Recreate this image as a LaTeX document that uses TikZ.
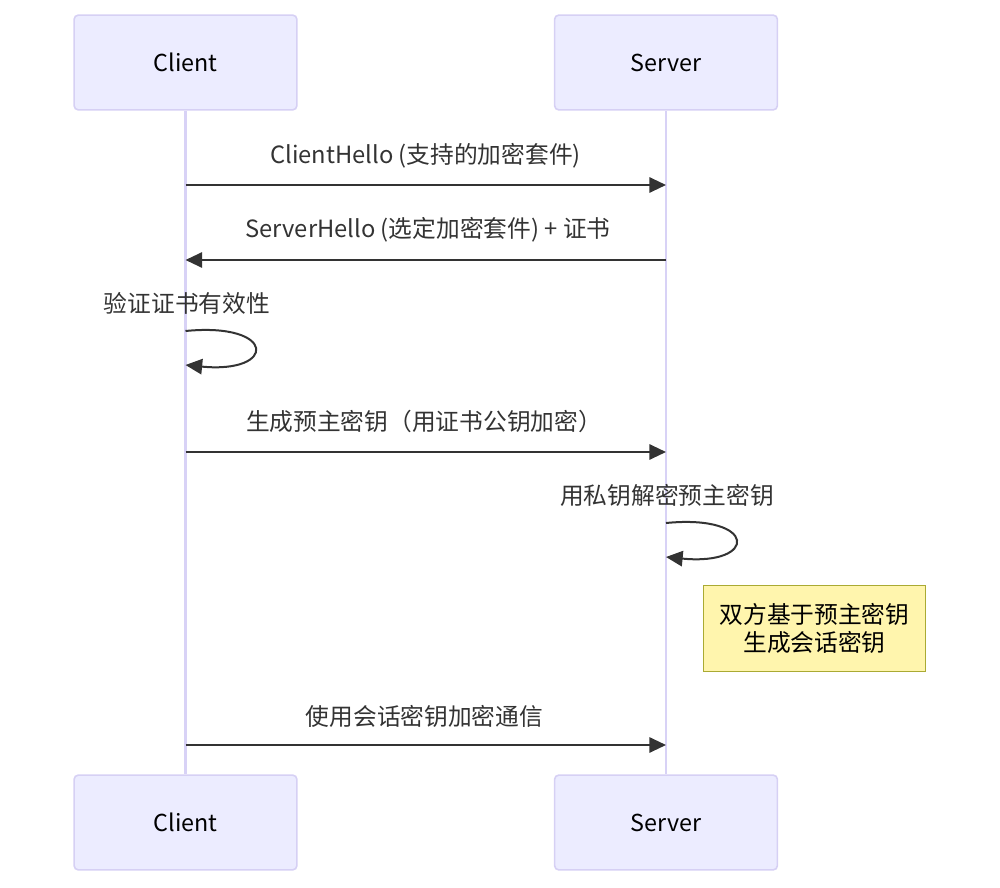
\documentclass[tikz,border=0pt]{standalone}
\usepackage{fontspec}
\setmainfont{Noto Sans CJK SC}
\usetikzlibrary{arrows.meta}
\definecolor{actorfill}{HTML}{ECECFF}
\definecolor{actorline}{HTML}{D6D0F4}
\definecolor{lifecol}{HTML}{D8D2F6}
\definecolor{msgcol}{HTML}{333333}
\definecolor{notefill}{HTML}{FFF5AD}
\definecolor{noteline}{HTML}{AAAA33}
\tikzset{
  actor/.style={draw=actorline,fill=actorfill,line width=1.2pt,rounded corners=3pt,
    minimum width=167pt,minimum height=71pt,inner sep=0pt,font=\fontsize{17.5}{20}\selectfont},
  lifeline/.style={draw=lifecol,line width=2pt},
  msg/.style={draw=msgcol,line width=1.5pt,-{Triangle[length=12.5pt,width=11.5pt]}},
  msglabel/.style={text=msgcol,inner sep=0pt,font=\fontsize{17.8}{20}\selectfont},
  notebox/.style={draw=noteline,fill=notefill,line width=0.9pt,minimum width=167pt,
    minimum height=64pt,inner sep=0pt,align=center,font=\fontsize{17.8}{20.5}\selectfont}
}
\begin{document}
\begin{tikzpicture}[x=0.75pt,y=-0.75pt]
        \useasboundingbox (0,0) rectangle (1000,888);
        %% actors
        \node[actor] (ct) at (185.5,62.5) {Client};
        \node[actor] (st) at (666,62.5) {Server};
        \node[actor] (cb) at (185.5,822.5) {Client};
        \node[actor] (sb) at (666,822.5) {Server};
        %% lifelines
        \draw[lifeline] (ct.south) -- (cb.north);
        \draw[lifeline] (st.south) -- (sb.north);
        %% points on the lifelines
        \coordinate (c1) at (185.5,185);
        \coordinate (s1) at (666,185);
        \coordinate (c2) at (185.5,260);
        \coordinate (s2) at (666,260);
        \coordinate (c3a) at (185.5,331);
        \coordinate (c3b) at (185.5,365);
        \coordinate (c4) at (185.5,452);
        \coordinate (s4) at (666,452);
        \coordinate (s5a) at (666,523);
        \coordinate (s5b) at (666,557);
        \coordinate (c6) at (185.5,745);
        \coordinate (s6) at (666,745);
        %% messages
        \node[msglabel] (m1) at (425.5,156) {ClientHello (支持的加密套件)};
        \draw[msg] (c1) -- (s1);
        \node[msglabel] (m2) at (428,230) {ServerHello (选定加密套件) + 证书};
        \draw[msg] (s2) -- (c2);
        \node[msglabel] (m3) at (187,303) {验证证书有效性};
        \draw[msg] (c3a) .. controls (277,322) and (277,374) .. (c3b);
        \node[msglabel] (m4) at (424,421) {生成预主密钥（用证书公钥加密）};
        \draw[msg] (c4) -- (s4);
        \node[msglabel] (m5) at (667,495) {用私钥解密预主密钥};
        \draw[msg] (s5a) .. controls (758,514) and (758,566) .. (s5b);
        %% note
        \node[notebox] (n1) at (814.5,628.5) {双方基于预主密钥\\生成会话密钥};
        \node[msglabel] (m6) at (424.5,716) {使用会话密钥加密通信};
        \draw[msg] (c6) -- (s6);
    \end{tikzpicture}
\end{document}
